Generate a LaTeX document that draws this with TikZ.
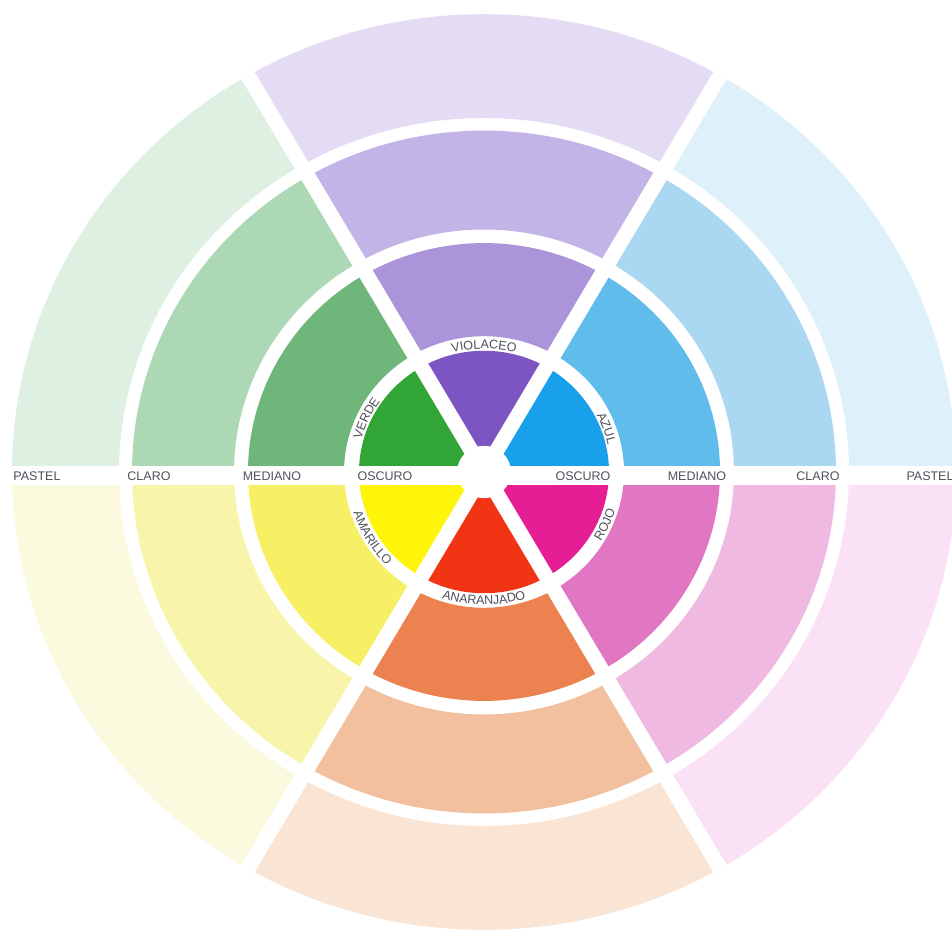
\documentclass[tikz,border=0pt]{standalone}
\usepackage{fontspec}
\setmainfont{Liberation Sans}
\usetikzlibrary{decorations.text}

% tints: O = oscuro, M = mediano, C = claro, P = pastel
\definecolor{vioO}{RGB}{125,85,195}  \definecolor{vioM}{RGB}{172,148,218}
\definecolor{vioC}{RGB}{195,180,232} \definecolor{vioP}{RGB}{228,220,245}
\definecolor{azuO}{RGB}{25,160,235}  \definecolor{azuM}{RGB}{95,188,235}
\definecolor{azuC}{RGB}{170,215,242} \definecolor{azuP}{RGB}{222,240,250}
\definecolor{rojO}{RGB}{230,30,150}  \definecolor{rojM}{RGB}{225,118,195}
\definecolor{rojC}{RGB}{240,185,225} \definecolor{rojP}{RGB}{250,225,245}
\definecolor{narO}{RGB}{240,52,20}   \definecolor{narM}{RGB}{235,130,80}
\definecolor{narC}{RGB}{242,192,158} \definecolor{narP}{RGB}{250,228,212}
\definecolor{amaO}{RGB}{255,245,10}  \definecolor{amaM}{RGB}{248,240,100}
\definecolor{amaC}{RGB}{248,245,170} \definecolor{amaP}{RGB}{252,250,222}
\definecolor{verO}{RGB}{50,165,55}   \definecolor{verM}{RGB}{110,182,122}
\definecolor{verC}{RGB}{172,216,182} \definecolor{verP}{RGB}{222,240,226}
\definecolor{labelgray}{RGB}{80,80,90}

\newcommand{\lblfont}{\fontsize{12.5}{12.5}\selectfont}
% color, start angle, end angle, inner radius, outer radius
\newcommand{\ringsector}[5]{%
  \fill[fill=#1] (#2:#4) arc[start angle=#2, end angle=#3, radius=#4]
    -- (#3:#5) arc[start angle=#3, end angle=#2, radius=#5] -- cycle;}

\begin{document}
\begin{tikzpicture}[x=1pt, y=1pt,
  ringlabel/.style={font=\lblfont, text=labelgray, inner sep=1pt},
  huelabel/.style={decorate, decoration={text along path, text align=center,
    text color=labelgray, text={|\lblfont|#1}}},
  gap/.style={white, line width=15pt},
]
\fill[white] (-484,-461) rectangle (468,472);
\useasboundingbox (-484,-461) rectangle (468,472);

\begin{scope}[yscale=0.97]
% Sectors
\foreach \a/\b/\n in {0/60/azu, 60/120/vio, 120/180/ver,
                      180/240/ama, 240/300/nar, 300/360/roj}
  \foreach \t/\ri/\ro in {O/1/125, M/140/236, C/250/352, P/365/472}
    \ringsector{\n\t}{\a}{\b}{\ri}{\ro};

% Gaps
\draw[gap] (60:490) -- (240:490);
\draw[gap] (120:490) -- (300:490);
\draw[white, line width=19pt] (-490,-4) -- (490,-4);
\fill[white] (0,0) circle[radius=27];

% Hue names
\path[huelabel=VIOLACEO] (120:127) arc[start angle=120, end angle=60, radius=127];
\path[huelabel=AZUL] (50:127) arc[start angle=50, end angle=-10, radius=127];
\path[huelabel=VERDE] (185:127) arc[start angle=185, end angle=125, radius=127];
\path[huelabel=ROJO] (-54:137) arc[start angle=-54, end angle=6, radius=137];
\path[huelabel=ANARANJADO] (235:137) arc[start angle=235, end angle=305, radius=137];
\path[huelabel=AMARILLO] (176:137) arc[start angle=176, end angle=246, radius=137];
\end{scope}

% Ring names
\node[ringlabel] (oscL) at (-99,-4) {OSCURO};
\node[ringlabel] (medL) at (-212,-4) {MEDIANO};
\node[ringlabel] (claL) at (-335,-4) {CLARO};
\node[ringlabel] (pasL) at (-447,-4) {PASTEL};
\node[ringlabel] (oscR) at (99,-4) {OSCURO};
\node[ringlabel] (medR) at (213,-4) {MEDIANO};
\node[ringlabel] (claR) at (334,-4) {CLARO};
\node[ringlabel] (pasR) at (446,-4) {PASTEL};
\end{tikzpicture}
\end{document}
